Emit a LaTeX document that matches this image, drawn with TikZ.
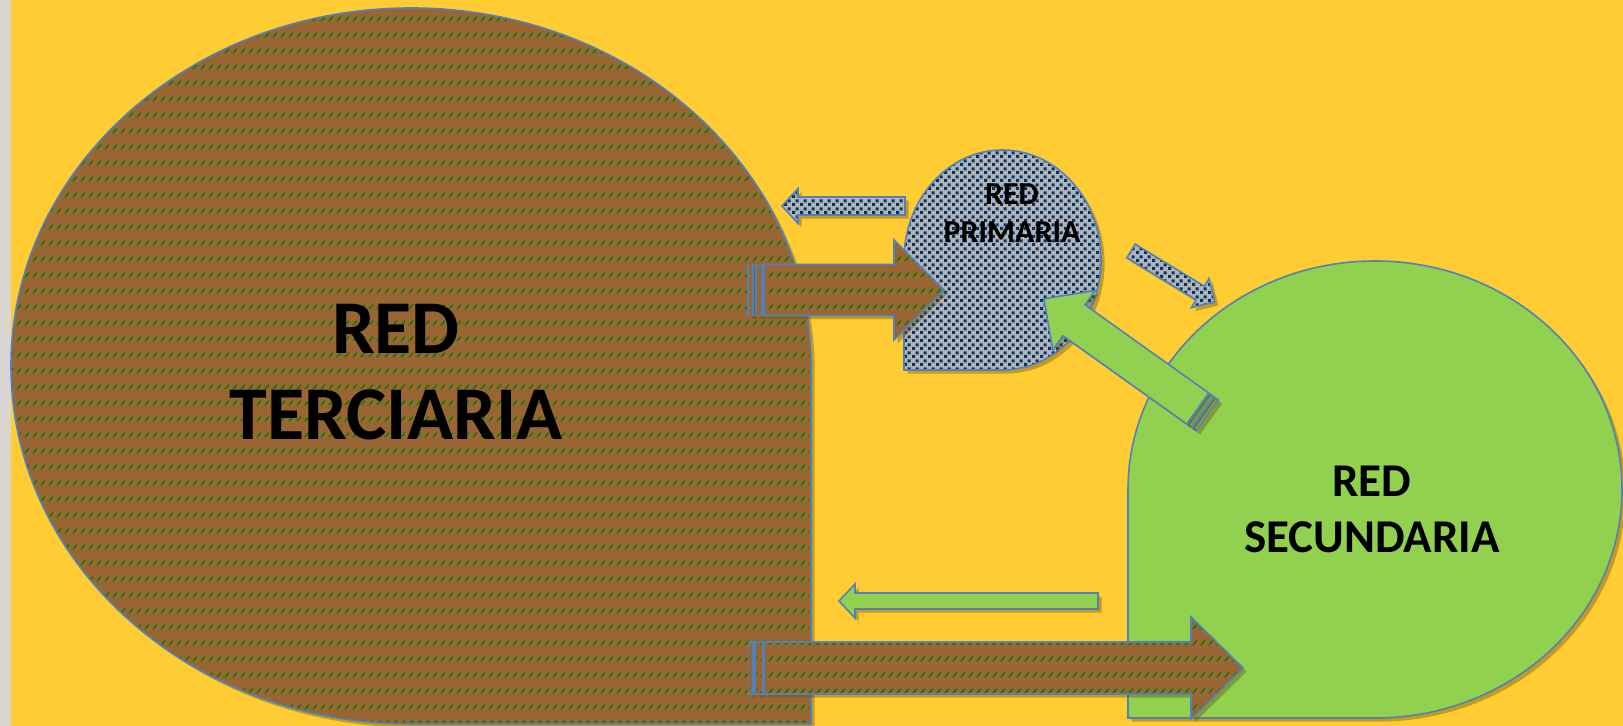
\documentclass[tikz,border=0pt]{standalone}
\usepackage{fontspec}
\setmainfont{Carlito}
\usetikzlibrary{patterns, shadows}
\definecolor{bgyellow}{RGB}{255,204,51}
\definecolor{stripgray}{RGB}{217,213,208}
\definecolor{brownfill}{RGB}{153,102,51}
\definecolor{dashgreen}{RGB}{0,128,0}
\definecolor{primgray}{RGB}{180,180,182}
\definecolor{navy}{RGB}{0,51,102}
\definecolor{greenfill}{RGB}{146,208,80}
\definecolor{edgeblue}{RGB}{79,129,189}
\definecolor{shadowolive}{RGB}{110,80,0}

\pgfdeclarepatternformonly{dashrows}{\pgfpointorigin}{\pgfpoint{4pt}{8pt}}{\pgfpoint{4pt}{8pt}}{
  \pgfsetlinewidth{0.75pt}
  \pgfpathmoveto{\pgfpoint{0.5pt}{0.5pt}}
  \pgfpathlineto{\pgfpoint{2.8pt}{2.8pt}}
  \pgfusepath{stroke}
}
\pgfdeclarepatternformonly{navysquares}{\pgfpointorigin}{\pgfpoint{4pt}{4pt}}{\pgfpoint{4pt}{4pt}}{
  \pgfpathrectangle{\pgfpointorigin}{\pgfpoint{1.7pt}{1.7pt}}
  \pgfpathrectangle{\pgfpoint{2pt}{2pt}}{\pgfpoint{1.7pt}{1.7pt}}
  \pgfusepath{fill}
}

\begin{document}
\begin{tikzpicture}[
    x=0.5pt, y=-0.5pt,
    edge/.style={draw=edgeblue, line width=0.8pt},
    dropsh/.style={drop shadow={shadow xshift=1.8pt, shadow yshift=-1.8pt, opacity=0.4, fill=shadowolive}},
    tierra/.style={edge, dropsh, preaction={fill=brownfill}, pattern=dashrows, pattern color=dashgreen},
    malla/.style={edge, dropsh, preaction={fill=primgray}, pattern=navysquares, pattern color=navy},
    verde/.style={edge, dropsh, fill=greenfill},
    redtext/.style={align=center, text=black, inner sep=0pt}
]

% background
\fill[bgyellow] (0,0) rectangle (1623,726);
\fill[stripgray] (0,0) rectangle (11,726);
\useasboundingbox (0,0) rectangle (1623,726);

% the three networks
\draw[tierra] (811,366) arc[start angle=360, end angle=180, x radius=400, y radius=358]
    arc[start angle=180, end angle=90, x radius=400, y radius=358] -- (811,724) -- cycle;
\draw[malla] (904,260) arc[start angle=180, end angle=360, x radius=98.5, y radius=110]
    arc[start angle=0, end angle=90, x radius=98.5, y radius=110] -- (904,370) -- cycle;
\draw[verde] (1128,489.5) arc[start angle=180, end angle=360, x radius=247, y radius=228.5]
    arc[start angle=0, end angle=90, x radius=247, y radius=228.5] -- (1128,718) -- cycle;

% primaria -> terciaria
\draw[malla] (905,197) -- (798,197) -- (798,188.5) -- (782,206) -- (798,223.5) -- (798,215) -- (905,215) -- cycle;

% terciaria -> primaria
\draw[tierra] (748,264.5) rectangle (753,315.5);
\draw[tierra] (756,264.5) rectangle (762,315.5);
\draw[tierra] (764,264.5) -- (894,264.5) -- (894,240) -- (944,290) -- (894,340) -- (894,315.5) -- (764,315.5) -- cycle;

% primaria -> secundaria
\draw[malla, shift={(1131,251)}, rotate=-31.3] (0,-8) -- (81,-8) -- (81,-17) -- (98,0) -- (81,17) -- (81,8) -- (0,8) -- cycle;

% secundaria -> primaria
\begin{scope}[shift={(1207.5,415.5)}, rotate=144.5]
\draw[verde] (0,-19) rectangle (4,19);
\draw[verde] (6,-19) rectangle (10,19);
\draw[verde] (12,-19) -- (164,-19) -- (164,-36.5) -- (201,0) -- (164,36.5) -- (164,19) -- (12,19) -- cycle;
\end{scope}

% secundaria -> terciaria
\draw[verde] (1098,593) -- (855,593) -- (855,584) -- (839,601) -- (855,618) -- (855,609) -- (1098,609) -- cycle;

% terciaria -> secundaria
\draw[tierra] (748.5,642) rectangle (752.8,694);
\draw[tierra] (755,642) rectangle (762.3,694);
\draw[tierra] (764,642) -- (1191,642) -- (1191,617) -- (1243,668) -- (1191,719) -- (1191,694) -- (764,694) -- cycle;

% names
\node[redtext, font=\bfseries\fontsize{38}{43}\selectfont] (terciaria) at (396,372) {RED\\TERCIARIA};
\node[redtext, font=\bfseries\fontsize{16}{19}\selectfont] (primaria) at (1012,213) {RED\\PRIMARIA};
\node[redtext, font=\bfseries\fontsize{23.5}{28}\selectfont] (secundaria) at (1372,509) {RED\\SECUNDARIA};

\end{tikzpicture}
\end{document}
